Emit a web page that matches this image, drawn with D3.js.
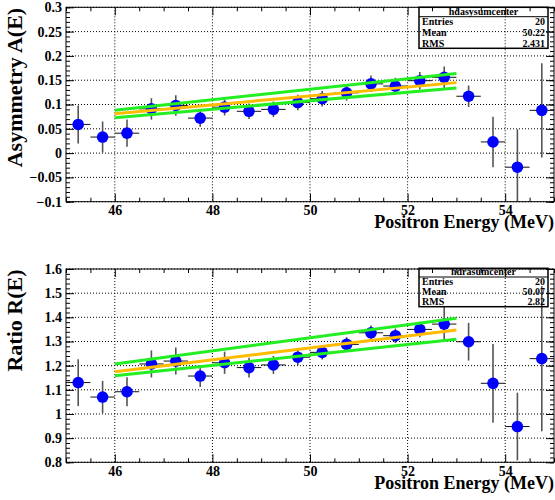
<!DOCTYPE html>
<html>
<head>
<meta charset="utf-8">
<script src="https://cdn.jsdelivr.net/npm/d3@7"></script>
<style>
  body { margin: 0; background: #fff; }
  svg { display: block; font-family: "Liberation Serif", "Times New Roman", serif; font-weight: bold; }
</style>
</head>
<body>
<script>
'use strict';

// bin centres (MeV)
var energy = [45.25, 45.75, 46.25, 46.75, 47.25, 47.75, 48.25, 48.75, 49.25, 49.75,
  50.25, 50.75, 51.25, 51.75, 52.25, 52.75, 53.25, 53.75, 54.25, 54.75];

var asym = [0.059, 0.033, 0.041, 0.091, 0.098, 0.072, 0.0945, 0.086, 0.090, 0.104,
  0.112, 0.124, 0.1425, 0.138, 0.149, 0.156, 0.117, 0.023, -0.029, 0.088];
var asymErr = [0.039, 0.032, 0.028, 0.022, 0.021, 0.018, 0.017, 0.016, 0.016, 0.016,
  0.016, 0.016, 0.017, 0.017, 0.018, 0.022, 0.022, 0.052, 0.078, 0.097];

var ratio = [1.130, 1.070, 1.092, 1.207, 1.219, 1.157, 1.212, 1.192, 1.203, 1.235,
  1.255, 1.288, 1.336, 1.324, 1.350, 1.372, 1.299, 1.127, 0.948, 1.229];
var ratioErr = [0.097, 0.067, 0.060, 0.056, 0.056, 0.045, 0.046, 0.041, 0.037, 0.033,
  0.030, 0.030, 0.030, 0.030, 0.032, 0.072, 0.078, 0.163, 0.140, 0.300];

// linear fit and its band, evaluated at the ends of the fit range
var fitE = [46, 53];
var asymFit = [0.0809, 0.145];
var asymFitUp = [0.0883, 0.1637];
var asymFitLo = [0.0727, 0.134];
var ratioFit = [1.175, 1.348];
var ratioFitUp = [1.207, 1.396];
var ratioFitLo = [1.158, 1.309];

var xTicks = [46, 48, 50, 52, 54];
var asymTicks = [-0.1, -0.05, 0, 0.05, 0.1, 0.15, 0.2, 0.25, 0.3];
var ratioTicks = [0.8, 0.9, 1, 1.1, 1.2, 1.3, 1.4, 1.5, 1.6];

var statLabels = ['Entries', 'Mean', 'RMS'];
var asymStats = ['20', '50.22', '2.431'];
var ratioStats = ['20', '50.07', '2.82'];

var svg = d3.select('body').append('svg').attr('width', 555).attr('height', 500);
svg.append('rect').attr('width', 555).attr('height', 500).attr('fill', '#fff');

function fmtTick(d) {
  var s = String(+d.toFixed(2));
  return s.replace('-', '\u2212');
}

function drawPanel(p) {
  var left = 66, right = 554;
  var x = d3.scaleLinear().domain([45, 55]).range([left, right]);
  var y = d3.scaleLinear().domain(p.yDomain).range([p.bottom, p.top]);
  var g = svg.append('g');

  // grid
  g.selectAll('.gx').data(xTicks).enter().append('line')
    .attr('x1', x).attr('x2', x).attr('y1', p.top).attr('y2', p.bottom)
    .attr('stroke', '#000').attr('stroke-width', 1).attr('stroke-dasharray', '1,2');
  g.selectAll('.gy').data(p.yTicks).enter().append('line')
    .attr('x1', left).attr('x2', right).attr('y1', y).attr('y2', y)
    .attr('stroke', '#000').attr('stroke-width', 1).attr('stroke-dasharray', '1,2');

  var pts = energy.map(function(e, i) { return { e: e, v: p.values[i], err: p.errors[i] }; });

  var clip = function(v) { return Math.max(p.yDomain[0], Math.min(p.yDomain[1], v)); };

  // error bars
  g.selectAll('.ex').data(pts).enter().append('line')
    .attr('x1', function(d) { return x(d.e - 0.25); })
    .attr('x2', function(d) { return x(d.e + 0.25); })
    .attr('y1', function(d) { return y(d.v); })
    .attr('y2', function(d) { return y(d.v); })
    .attr('stroke', '#111').attr('stroke-width', 1);
  g.selectAll('.ey').data(pts).enter().append('line')
    .attr('x1', function(d) { return x(d.e); })
    .attr('x2', function(d) { return x(d.e); })
    .attr('y1', function(d) { return y(clip(d.v - d.err)); })
    .attr('y2', function(d) { return y(clip(d.v + d.err)); })
    .attr('stroke', '#555').attr('stroke-width', 1.6);

  // markers
  g.selectAll('circle').data(pts).enter().append('circle')
    .attr('cx', function(d) { return x(d.e); })
    .attr('cy', function(d) { return y(d.v); })
    .attr('r', 5.8)
    .attr('fill', '#0000ff');

  // fit lines
  var line = d3.line()
    .x(function(d, i) { return x(fitE[i]); })
    .y(function(d) { return y(d); });
  [[p.fitUp, '#22ee22'], [p.fitLo, '#22ee22'], [p.fit, '#ffbb00']].forEach(function(f) {
    g.append('path').attr('d', line(f[0]))
      .attr('fill', 'none').attr('stroke', f[1]).attr('stroke-width', 3);
  });

  // axes
  var xMinor = d3.range(45, 55.01, 0.5).filter(function(v) { return xTicks.indexOf(v) < 0; });
  var yMinor = d3.range(p.yDomain[0], p.yDomain[1] + 1e-9, p.minorStep);

  function style(sel) {
    sel.select('.domain').remove();
    sel.selectAll('line').attr('stroke', '#000');
    sel.selectAll('text').attr('font-family', 'Liberation Serif, serif')
      .attr('font-weight', 'bold').attr('font-size', 14).attr('fill', '#000');
    sel.attr('font-family', null).attr('font-size', null);
  }

  g.append('g').attr('transform', 'translate(0,' + p.bottom + ')')
    .call(d3.axisBottom(x).tickValues(xTicks).tickSize(-8).tickSizeOuter(0).tickPadding(3.5)
      .tickFormat(d3.format('d'))).call(style);
  g.append('g').attr('transform', 'translate(0,' + p.bottom + ')')
    .call(d3.axisBottom(x).tickValues(xMinor).tickSize(-4).tickSizeOuter(0).tickFormat('')).call(style);
  g.append('g').attr('transform', 'translate(0,' + p.top + ')')
    .call(d3.axisTop(x).tickValues(xTicks).tickSize(-8).tickSizeOuter(0).tickFormat('')).call(style);
  g.append('g').attr('transform', 'translate(0,' + p.top + ')')
    .call(d3.axisTop(x).tickValues(xMinor).tickSize(-4).tickSizeOuter(0).tickFormat('')).call(style);

  g.append('g').attr('transform', 'translate(' + left + ',0)')
    .call(d3.axisLeft(y).tickValues(p.yTicks).tickSize(-8).tickSizeOuter(0).tickPadding(4)
      .tickFormat(fmtTick)).call(style);
  g.append('g').attr('transform', 'translate(' + left + ',0)')
    .call(d3.axisLeft(y).tickValues(yMinor).tickSize(-4).tickSizeOuter(0).tickFormat('')).call(style);
  g.append('g').attr('transform', 'translate(' + right + ',0)')
    .call(d3.axisRight(y).tickValues(p.yTicks).tickSize(-8).tickSizeOuter(0).tickFormat('')).call(style);
  g.append('g').attr('transform', 'translate(' + right + ',0)')
    .call(d3.axisRight(y).tickValues(yMinor).tickSize(-4).tickSizeOuter(0).tickFormat('')).call(style);

  // frame
  g.append('rect').attr('x', left).attr('y', p.top)
    .attr('width', right - left).attr('height', p.bottom - p.top)
    .attr('fill', 'none').attr('stroke', '#000').attr('stroke-width', 1);

  // titles
  g.append('text').attr('x', right).attr('y', p.bottom + 26.5)
    .attr('text-anchor', 'end').attr('font-size', 18).text('Positron Energy (MeV)');
  g.append('text').attr('transform', 'translate(22,' + (p.top + 0.5) + ') rotate(-90)')
    .attr('text-anchor', 'end').attr('font-size', 22).text(p.yTitle);

  // stats box (transparent, as in the reference)
  var b = p.box, bx0 = 419, bx1 = 548;
  var sb = g.append('g');
  sb.append('rect').attr('x', bx0).attr('y', b.y0).attr('width', bx1 - bx0).attr('height', b.y1 - b.y0)
    .attr('fill', 'none').attr('stroke', '#000').attr('stroke-width', 1.5);
  sb.append('line').attr('x1', bx0).attr('x2', bx1).attr('y1', b.div).attr('y2', b.div)
    .attr('stroke', '#000').attr('stroke-width', 1);
  sb.append('text').attr('x', (bx0 + bx1) / 2).attr('y', b.div - 2)
    .attr('text-anchor', 'middle').attr('font-size', 10).text(p.statTitle);
  var h = (b.y1 - b.div) / statLabels.length;
  statLabels.forEach(function(l, i) {
    var yy = b.div + (i + 0.5) * h + 3.5;
    sb.append('text').attr('x', bx0 + 3).attr('y', yy).attr('font-size', 10).text(l);
    sb.append('text').attr('x', bx1 - 3).attr('y', yy).attr('text-anchor', 'end')
      .attr('font-size', 10).text(p.stats[i]);
  });
}

drawPanel({
  top: 7.3, bottom: 201.7, yDomain: [-0.1, 0.3], yTicks: asymTicks, minorStep: 0.01,
  values: asym, errors: asymErr, fit: asymFit, fitUp: asymFitUp, fitLo: asymFitLo,
  yTitle: 'Asymmetry A(E)', statTitle: 'hdasysumcenter', stats: asymStats,
  box: { y0: 7.3, div: 16.7, y1: 48.3 }
});

drawPanel({
  top: 269, bottom: 462.3, yDomain: [0.8, 1.6], yTicks: ratioTicks, minorStep: 0.02,
  values: ratio, errors: ratioErr, fit: ratioFit, fitUp: ratioFitUp, fitLo: ratioFitLo,
  yTitle: 'Ratio R(E)', statTitle: 'hdrasumcenter', stats: ratioStats,
  box: { y0: 268.3, div: 277, y1: 306.7 }
});
</script>
</body>
</html>
